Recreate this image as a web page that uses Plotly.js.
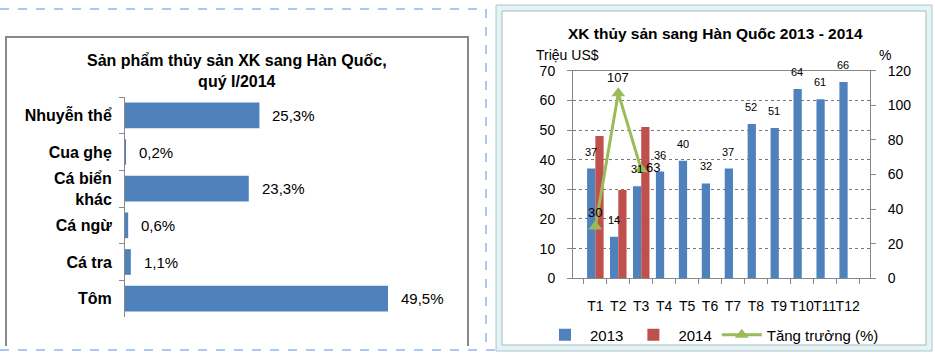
<!DOCTYPE html>
<html>
<head>
<meta charset="utf-8">
<script src="https://cdn.plot.ly/plotly-3.0.1.min.js"></script>
<style>html,body{margin:0;padding:0;background:#fff;}#chart{width:935px;height:356px;}</style>
</head>
<body>
<div id="chart"></div>
<script>
// ---- Left chart data ----
const productNames = ['Nhuyễn thể', 'Cua ghẹ', 'Cá biển<br>khác', 'Cá ngừ', 'Cá tra', 'Tôm'];
const productShares = [25.3, 0.2, 23.3, 0.6, 1.1, 49.5];

// ---- Right chart data ----
const months = ['T1','T2','T3','T4','T5','T6','T7','T8','T9','T10','T11','T12'];
const exports2013 = [37, 14, 31, 36, 39.6, 32, 37, 52, 50.7, 63.8, 60.4, 66.2];
const labels2013 = ['37','14','31','36','40','32','37','52','51','64','61','66'];
const exports2014 = [48, 29.8, 51, null, null, null, null, null, null, null, null, null];
const growthPct = [30, 107, 63, null, null, null, null, null, null, null, null, null];
const growthLabels = ['30','107','63'];

const W = 935, H = 356;
const px = x => x / W;
const py = y => 1 - y / H;
const FONT = 'Liberation Sans, Arial, sans-serif';
const BLUE = '#4F81BD', RED = '#C0504D', GREEN = '#9BBB59';

const traces = [
  {
    type: 'bar', orientation: 'h', x: productShares, y: productNames,
    xaxis: 'x', yaxis: 'y', marker: {color: BLUE}, width: 0.7,
    showlegend: false, hoverinfo: 'x+y'
  },
  {
    type: 'bar', x: months, y: exports2013, name: '2013',
    xaxis: 'x2', yaxis: 'y2', marker: {color: BLUE}
  },
  {
    type: 'bar', x: months, y: exports2014, name: '2014',
    xaxis: 'x2', yaxis: 'y2', marker: {color: RED}
  },
  {
    type: 'scatter', mode: 'lines+markers', x: months, y: growthPct,
    name: 'Tăng trưởng (%)', xaxis: 'x2', yaxis: 'y3',
    line: {color: GREEN, width: 3}, connectgaps: false,
    marker: {symbol: 'triangle-up', size: 12, color: GREEN}
  }
];

const annotations = [];
// left title
annotations.push({
  xref: 'paper', yref: 'paper', x: px(237), y: py(71), xanchor: 'center', yanchor: 'middle',
  text: '<b>Sản phẩm thủy sản XK sang Hàn Quốc,<br>quý I/2014</b>', showarrow: false,
  font: {family: FONT, size: 16, color: '#000'}
});
// left value labels
productShares.forEach((v, i) => {
  annotations.push({
    xref: 'x', yref: 'y', x: v, y: productNames[i], xanchor: 'left', yanchor: 'middle',
    xshift: 11, text: v.toFixed(1).replace('.', ',') + '%', showarrow: false,
    font: {family: FONT, size: 15, color: '#000'}
  });
});
// right title
annotations.push({
  xref: 'paper', yref: 'paper', x: px(715), y: py(33), xanchor: 'center', yanchor: 'middle',
  text: '<b>XK thủy sản sang Hàn Quốc 2013 - 2014</b>', showarrow: false,
  font: {family: FONT, size: 15.5, color: '#000'}
});
// axis unit labels
annotations.push({
  xref: 'paper', yref: 'paper', x: px(534), y: py(55), xanchor: 'left', yanchor: 'middle',
  text: 'Triệu US$', showarrow: false, font: {family: FONT, size: 14, color: '#000'}
});
annotations.push({
  xref: 'paper', yref: 'paper', x: px(877), y: py(55), xanchor: 'left', yanchor: 'middle',
  text: '%', showarrow: false, font: {family: FONT, size: 14, color: '#000'}
});
// 2013 bar labels
exports2013.forEach((v, i) => {
  annotations.push({
    xref: 'x2', yref: 'y2', x: months[i], y: v, xanchor: 'center', yanchor: 'middle',
    xshift: -4.5, yshift: 17, text: labels2013[i], showarrow: false,
    font: {family: FONT, size: 11, color: '#000'}
  });
});
// growth labels
const growthShift = [[0, 14], [0, 16], [12, 2]];
growthLabels.forEach((t, i) => {
  annotations.push({
    xref: 'x2', yref: 'y3', x: months[i], y: growthPct[i], xanchor: 'center', yanchor: 'middle',
    xshift: growthShift[i][0], yshift: growthShift[i][1], text: t, showarrow: false,
    font: {family: FONT, size: 13, color: '#000'}
  });
});

const shapes = [
  // right chart frame
  {type: 'rect', xref: 'paper', yref: 'paper', x0: px(496), x1: px(932), y0: py(351), y1: py(5),
   line: {color: '#b4c4c8', width: 1}, fillcolor: '#e2f4f6', layer: 'below'},
  {type: 'rect', xref: 'paper', yref: 'paper', x0: px(502), x1: px(926), y0: py(345), y1: py(11),
   line: {color: '#aab8bc', width: 1}, fillcolor: '#ffffff', layer: 'below'},
  // left box
  {type: 'path', xref: 'paper', yref: 'paper',
   path: `M ${px(6)} ${py(346)} L ${px(6)} ${py(37)} L ${px(468)} ${py(37)} L ${px(468)} ${py(346)}`,
   line: {color: '#888888', width: 2}, layer: 'below'},
  // dashed selection lines
  {type: 'line', xref: 'paper', yref: 'paper', x0: 0, x1: px(486), y0: py(9), y1: py(9),
   line: {color: '#5b8fe0', width: 1, dash: 'dash'}},
  {type: 'line', xref: 'paper', yref: 'paper', x0: px(486), x1: px(486), y0: py(9), y1: py(350),
   line: {color: '#5b8fe0', width: 1, dash: 'dash'}},
  {type: 'line', xref: 'paper', yref: 'paper', x0: 0, x1: px(497), y0: py(350), y1: py(350),
   line: {color: '#5b8fe0', width: 1, dash: 'dash'}}
];

const layout = {
  width: W, height: H,
  margin: {l: 0, r: 0, t: 0, b: 0},
  paper_bgcolor: '#ffffff', plot_bgcolor: 'rgba(0,0,0,0)',
  font: {family: FONT, color: '#000'},
  barmode: 'group', bargap: 0.28, bargroupgap: 0,
  showlegend: true,
  legend: {orientation: 'h', x: px(712), xanchor: 'center', y: py(335), yanchor: 'middle',
           font: {family: FONT, size: 15, color: '#000'}, itemwidth: 40, bgcolor: 'rgba(0,0,0,0)',
           traceorder: 'normal'},
  xaxis: {domain: [px(125), px(455)], range: [0, 330 / 5.313], visible: false, fixedrange: true},
  yaxis: {domain: [py(317), py(97)], type: 'category', autorange: 'reversed',
          showline: true, linecolor: '#888', linewidth: 1, ticks: 'outside', ticklen: 5, tickcolor: '#888',
          tickson: 'boundaries', showgrid: false, zeroline: false, ticklabelstandoff: 9,
          tickfont: {family: FONT, size: 16, color: '#000', weight: 'bold'}},
  xaxis2: {domain: [px(573), px(870)], anchor: 'y2', type: 'category', tickangle: 0,
           showline: true, mirror: true, linecolor: '#888', linewidth: 1, ticks: 'outside', ticklen: 5,
           tickcolor: '#888', tickson: 'boundaries', showgrid: false, ticklabelstandoff: 15,
           tickfont: {family: FONT, size: 14, color: '#000'}},
  yaxis2: {domain: [py(278.3), py(70.7)], anchor: 'x2', range: [0, 70], dtick: 10,
           showline: true, linecolor: '#888', linewidth: 1, ticks: 'outside', ticklen: 5, tickcolor: '#888',
           showgrid: true, gridcolor: '#777', griddash: 'dot', gridwidth: 1, zeroline: false,
           ticklabelstandoff: 9, tickfont: {family: FONT, size: 14, color: '#000'}},
  yaxis3: {overlaying: 'y2', side: 'right', anchor: 'x2', range: [0, 120], dtick: 20,
           showline: true, linecolor: '#888', linewidth: 1, ticks: 'outside', ticklen: 5, tickcolor: '#888',
           showgrid: false, zeroline: false, ticklabelstandoff: 9,
           tickfont: {family: FONT, size: 14, color: '#000'}},
  annotations: annotations,
  shapes: shapes
};

Plotly.newPlot('chart', traces, layout, {displayModeBar: false, staticPlot: true});
</script>
</body>
</html>
